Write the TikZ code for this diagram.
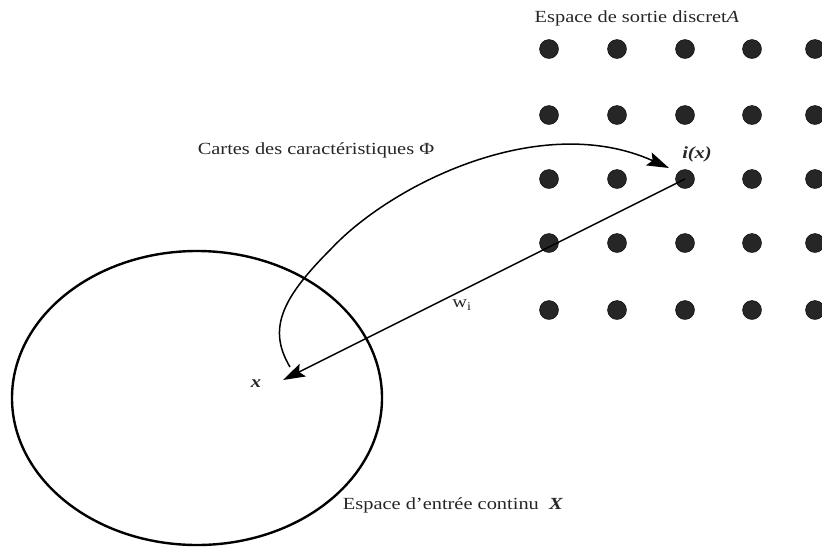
\documentclass[tikz,border=0pt]{standalone}
\usepackage{fontspec}
\setmainfont{Liberation Serif}
\usetikzlibrary{arrows.meta}
\newcommand{\wtxt}[1]{\scalebox{1.2}[1]{#1}}
\begin{document}
\begin{tikzpicture}[x=1pt,y=-1pt,
  dot/.style={circle,fill=black!85,draw=black,inner sep=0pt,minimum size=19pt},
  lbl/.style={inner sep=0pt,font=\fontsize{17}{19}\selectfont,text=black!85},
  conn/.style={line width=1.5pt,-{Stealth[length=22pt,width=14pt,inset=4pt]}}]
\useasboundingbox (0,0) rectangle (822,547);
% input space
\draw[line width=2.4pt] (197,398) ellipse [x radius=185, y radius=147];
% output grid
\foreach \c/\xx in {1/549,2/617,3/685,4/752,5/815}{
  \foreach \r/\yy in {1/49,2/115,3/179,4/243,5/310}{
    \node[dot] (d\r\c) at (\xx,\yy) {};
  }
}
% labels
\node[lbl] (topl) at (637,18) {\wtxt{Espace de sortie discret\textit{A}}};
\node[lbl] (carte) at (316,150) {\wtxt{Cartes des caractéristiques Φ}};
\node[lbl] (bot) at (453,505) {\wtxt{Espace d'entrée continu\ \ \textbf{\textit{X}}}};
\node[lbl] (ix) at (697,154) {\wtxt{\textbf{\textit{i(x)}}}};
\node[lbl] (xl) at (256,384) {\wtxt{\textbf{\textit{x}}}};
\node[lbl] (wi) at (462,305) {\wtxt{w\textsubscript{i}}};
\coordinate (xpt) at (283,380);
\coordinate (cstart) at (290,367);
\coordinate (cmid) at (330,250);
\coordinate (cend) at (669,168);
% connectors
\draw[conn] (d33.center) -- (xpt);
\draw[conn] (cstart) .. controls (268,330) and (280,300) .. (cmid)
  .. controls (390,185) and (540,110) .. (cend);
\end{tikzpicture}
\end{document}
